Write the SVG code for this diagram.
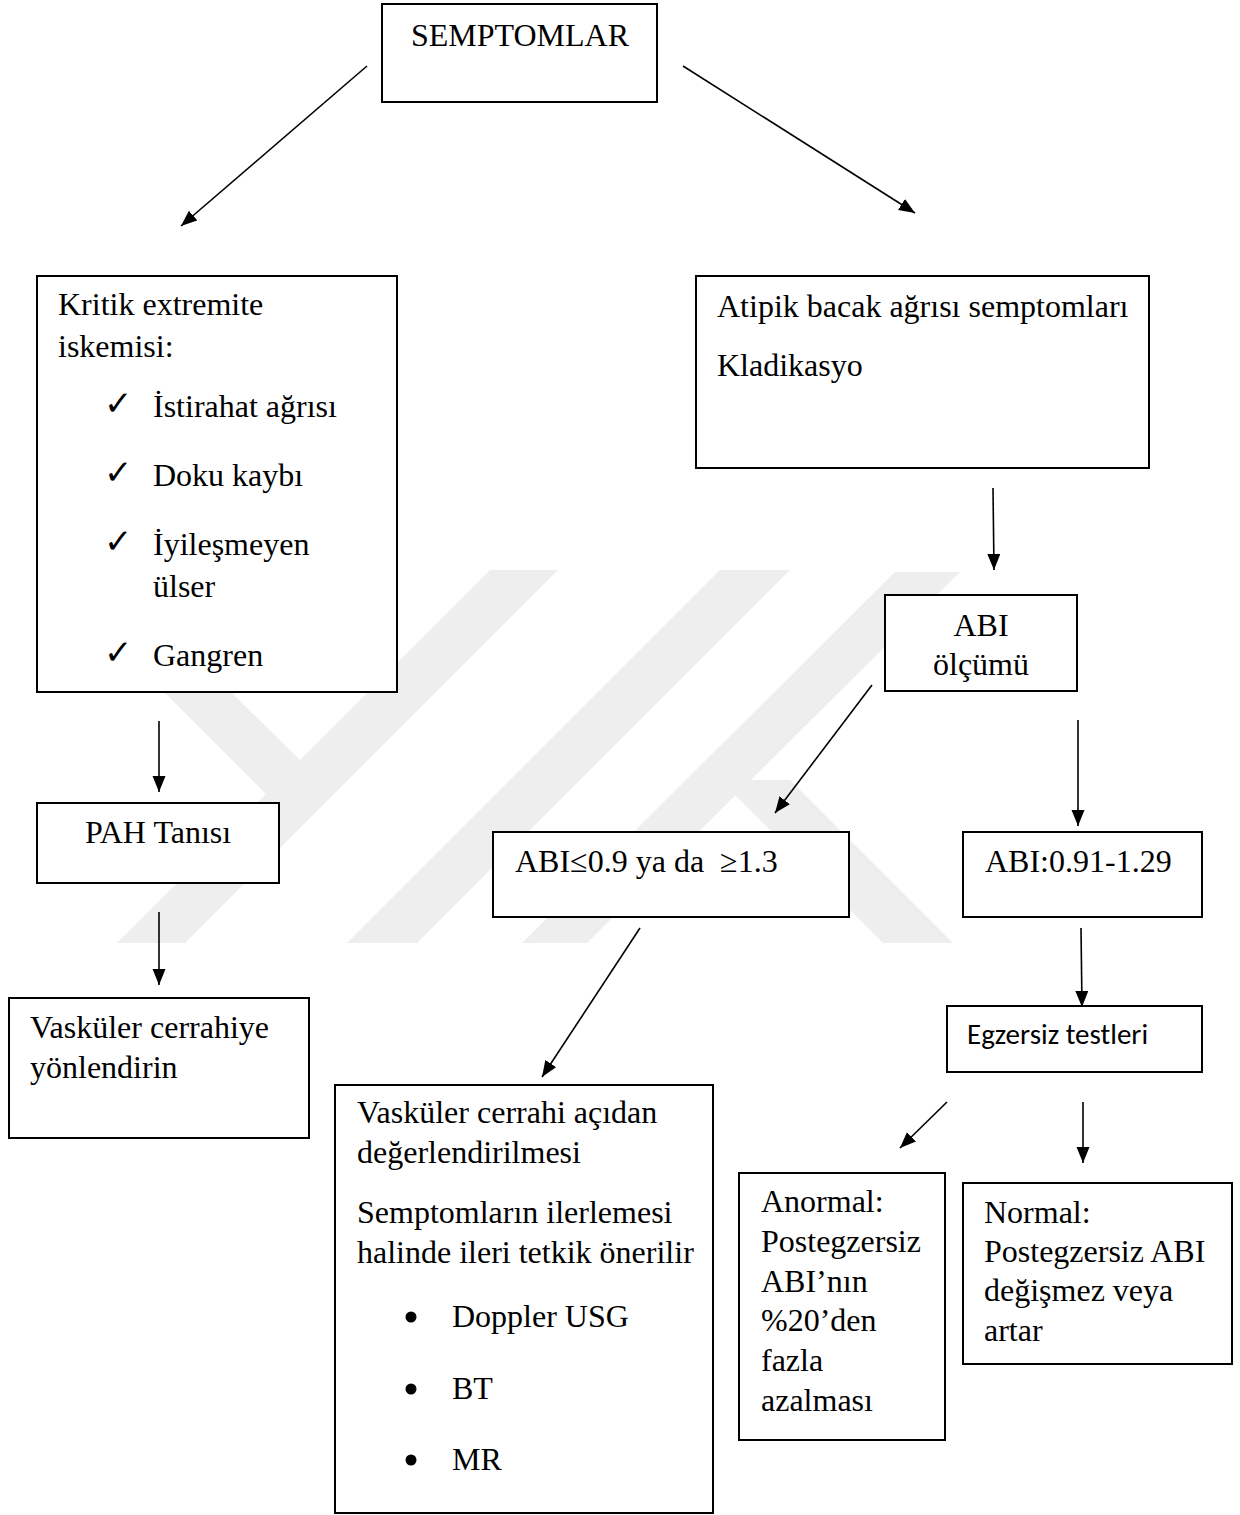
<svg xmlns="http://www.w3.org/2000/svg" width="1240" height="1515" viewBox="0 0 1240 1515">
<defs>
<marker id="ah" markerUnits="userSpaceOnUse" markerWidth="17" markerHeight="14" refX="16" refY="6.5" orient="auto">
<path d="M0,0 L16,6.5 L0,13 z" fill="#000"/>
</marker>
<style>
.box{fill:#fff;stroke:#000;stroke-width:2}
.t{font-family:"Liberation Serif","Times New Roman",serif;font-size:32px;fill:#000}
.c{text-anchor:middle}
.chk{font-family:"DejaVu Sans",sans-serif;font-size:34px;fill:#000}
.sans{font-family:Carlito,Lato,"Liberation Sans",sans-serif;font-size:29px;fill:#000}
.ln{stroke:#000;stroke-width:1.6;fill:none;marker-end:url(#ah)}
.wm{fill:#eeeeee}
</style>
</defs>
<rect width="1240" height="1515" fill="#fff"/>
<g id="watermark">
<polygon class="wm" points="117,943 185,943 558,570 490,570"/>
<polygon class="wm" points="165,693 232,693 300,760 266,794"/>
<polygon class="wm" points="347,943 417,943 790,570 720,570"/>
<polygon class="wm" points="522,943 587,943 960,572 895,572"/>
<polygon class="wm" points="720,780 790,780 953,943 883,943"/>
</g>
<g id="connectors">
<line class="ln" x1="367" y1="66" x2="181" y2="226"/>
<line class="ln" x1="683" y1="66" x2="915" y2="213"/>
<line class="ln" x1="993" y1="488" x2="994" y2="570"/>
<line class="ln" x1="872" y1="685" x2="775" y2="813"/>
<line class="ln" x1="1078" y1="720" x2="1078" y2="826"/>
<line class="ln" x1="159" y1="721" x2="159" y2="792"/>
<line class="ln" x1="159" y1="912" x2="159" y2="985"/>
<line class="ln" x1="640" y1="928" x2="542" y2="1077"/>
<line class="ln" x1="1081" y1="928" x2="1082" y2="1007"/>
<line class="ln" x1="947" y1="1102" x2="900" y2="1148"/>
<line class="ln" x1="1083" y1="1102" x2="1083" y2="1163"/>
</g>
<g id="semptomlar">
<rect class="box" x="382" y="4" width="275" height="98"/>
<text class="t c" x="520" y="46">SEMPTOMLAR</text>
</g>
<g id="kritik">
<rect class="box" x="37" y="276" width="360" height="416"/>
<text class="t" x="58" y="315">Kritik extremite</text>
<text class="t" x="58" y="357">iskemisi:</text>
<text class="chk" x="104" y="415">✓</text>
<text class="t" x="153" y="417">İstirahat ağrısı</text>
<text class="chk" x="104" y="484">✓</text>
<text class="t" x="153" y="486">Doku kaybı</text>
<text class="chk" x="104" y="553">✓</text>
<text class="t" x="153" y="555">İyileşmeyen</text>
<text class="t" x="153" y="597">ülser</text>
<text class="chk" x="104" y="664">✓</text>
<text class="t" x="153" y="666">Gangren</text>
</g>
<g id="atipik">
<rect class="box" x="696" y="276" width="453" height="192"/>
<text class="t" x="717" y="317">Atipik bacak ağrısı semptomları</text>
<text class="t" x="717" y="376">Kladikasyo</text>
</g>
<g id="abi-olcumu">
<rect class="box" x="885" y="595" width="192" height="96"/>
<text class="t c" x="981" y="636">ABI</text>
<text class="t c" x="981" y="675">ölçümü</text>
</g>
<g id="pah">
<rect class="box" x="37" y="803" width="242" height="80"/>
<text class="t c" x="158" y="843">PAH Tanısı</text>
</g>
<g id="abi-low">
<rect class="box" x="493" y="832" width="356" height="85"/>
<text class="t" x="515" y="872">ABI≤0.9 ya da&#160; ≥1.3</text>
</g>
<g id="abi-normal">
<rect class="box" x="963" y="832" width="239" height="85"/>
<text class="t" x="985" y="872">ABI:0.91-1.29</text>
</g>
<g id="egzersiz">
<rect class="box" x="947" y="1006" width="255" height="66"/>
<text class="sans" x="967" y="1044">Egzersiz testleri</text>
</g>
<g id="vaskuler-yonlendir">
<rect class="box" x="9" y="998" width="300" height="140"/>
<text class="t" x="30" y="1038">Vasküler cerrahiye</text>
<text class="t" x="30" y="1078">yönlendirin</text>
</g>
<g id="vaskuler-degerlendirme">
<rect class="box" x="335" y="1085" width="378" height="428"/>
<text class="t" x="357" y="1123">Vasküler cerrahi açıdan</text>
<text class="t" x="357" y="1163">değerlendirilmesi</text>
<text class="t" x="357" y="1223">Semptomların ilerlemesi</text>
<text class="t" x="357" y="1263">halinde ileri tetkik önerilir</text>
<circle cx="411" cy="1317" r="5.5"/>
<text class="t" x="452" y="1327">Doppler USG</text>
<circle cx="411" cy="1389" r="5.5"/>
<text class="t" x="452" y="1399">BT</text>
<circle cx="411" cy="1460" r="5.5"/>
<text class="t" x="452" y="1470">MR</text>
</g>
<g id="anormal">
<rect class="box" x="739" y="1173" width="206" height="267"/>
<text class="t" x="761" y="1212">Anormal:</text>
<text class="t" x="761" y="1252">Postegzersiz</text>
<text class="t" x="761" y="1292">ABI’nın</text>
<text class="t" x="761" y="1331">%20’den</text>
<text class="t" x="761" y="1371">fazla</text>
<text class="t" x="761" y="1411">azalması</text>
</g>
<g id="normal">
<rect class="box" x="963" y="1183" width="269" height="181"/>
<text class="t" x="984" y="1223">Normal:</text>
<text class="t" x="984" y="1262">Postegzersiz ABI</text>
<text class="t" x="984" y="1301">değişmez veya</text>
<text class="t" x="984" y="1341">artar</text>
</g>
</svg>
